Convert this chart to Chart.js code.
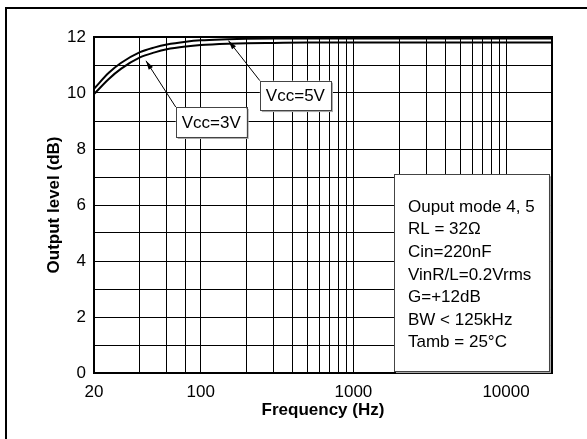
<!DOCTYPE html>
<html>
<head>
<meta charset="utf-8">
<script src="https://cdn.jsdelivr.net/npm/chart.js@4.4.0/dist/chart.umd.min.js"></script>
<style>
html, body { margin: 0; padding: 0; background: #fff; }
#wrap { width: 587px; height: 439px; }
</style>
</head>
<body>
<div id="wrap"><canvas id="chart" width="587" height="439"></canvas></div>
<script>
// Curve data
const freqHz = [20, 25, 30, 40, 50, 60, 80, 100, 150, 200, 300, 500, 1000, 2000, 5000, 10000, 20000];
const vcc5 = [10.15, 10.72, 11.07, 11.46, 11.63, 11.73, 11.83, 11.88, 11.92, 11.94, 11.95, 11.95, 11.95, 11.95, 11.95, 11.95, 11.95];
const vcc3 = [9.96, 10.5, 10.86, 11.27, 11.45, 11.56, 11.66, 11.71, 11.76, 11.78, 11.79, 11.8, 11.8, 11.8, 11.8, 11.8, 11.8];

// Axis ticks
const xGridTicks = [20, 40, 60, 80, 100, 200, 300, 400, 500, 600, 700, 800, 900, 1000,
    2000, 3000, 4000, 5000, 6000, 7000, 8000, 9000, 10000, 20000];
const xLabelTicks = [20, 100, 1000, 10000];
const yLabelTicks = [0, 2, 4, 6, 8, 10, 12];

// Annotation texts
const infoLines = ['Ouput mode 4, 5', 'RL = 32\u03A9', 'Cin=220nF', 'VinR/L=0.2Vrms', 'G=+12dB', 'BW < 125kHz', 'Tamb = 25\u00B0C'];
const labels = [
    { text: 'Vcc=5V', box: [244, 10.44, 713, 9.39], tip: [152, 11.87] },
    { text: 'Vcc=3V', box: [68.6, 9.5, 200, 8.43], tip: [43.8, 11.15] }
];
const infoBox = [1845, 7.1, 19100, 0.07];

const FONT = "'Liberation Sans', Arial, sans-serif";

function toXY(xs, ys) {
    return freqHz.map((f, i) => ({ x: f, y: ys[i] }));
}

function drawBox(ctx, x1, y1, x2, y2) {
    ctx.fillStyle = '#a8a8a8';
    ctx.fillRect(x1 + 2, y1 + 2, x2 - x1, y2 - y1);
    ctx.fillStyle = '#fff';
    ctx.fillRect(x1, y1, x2 - x1, y2 - y1);
    ctx.strokeStyle = '#444';
    ctx.lineWidth = 1;
    ctx.strokeRect(Math.round(x1) + 0.5, Math.round(y1) + 0.5, Math.round(x2 - x1), Math.round(y2 - y1));
}

function drawArrow(ctx, x1, y1, x2, y2) {
    ctx.strokeStyle = '#000';
    ctx.lineWidth = 1;
    ctx.beginPath();
    ctx.moveTo(x1, y1);
    ctx.lineTo(x2, y2);
    ctx.stroke();
    const a = Math.atan2(y2 - y1, x2 - x1);
    const len = 9, half = 2.5;
    ctx.fillStyle = '#000';
    ctx.beginPath();
    ctx.moveTo(x2, y2);
    ctx.lineTo(x2 - len * Math.cos(a) + half * Math.sin(a), y2 - len * Math.sin(a) - half * Math.cos(a));
    ctx.lineTo(x2 - len * Math.cos(a) - half * Math.sin(a), y2 - len * Math.sin(a) + half * Math.cos(a));
    ctx.closePath();
    ctx.fill();
}

const overlayPlugin = {
    id: 'overlay',
    beforeDraw(chart) {
        const ctx = chart.ctx;
        ctx.save();
        ctx.fillStyle = '#fff';
        ctx.fillRect(0, 0, chart.width, chart.height);
        ctx.strokeStyle = '#000';
        ctx.lineWidth = 2;
        ctx.strokeRect(6, 8, 700, 700);
        ctx.restore();
    },
    afterDatasetsDraw(chart) {
        const ctx = chart.ctx;
        const sx = chart.scales.x, sy = chart.scales.y;
        const a = chart.chartArea;
        ctx.save();
        // plot frame
        ctx.strokeStyle = '#000';
        ctx.lineWidth = 2;
        ctx.strokeRect(a.left, a.top, a.right - a.left, a.bottom - a.top);

        // curve labels with arrows
        labels.forEach(l => {
            const x1 = sx.getPixelForValue(l.box[0]), y1 = sy.getPixelForValue(l.box[1]);
            const x2 = sx.getPixelForValue(l.box[2]), y2 = sy.getPixelForValue(l.box[3]);
            drawArrow(ctx, x1, y1, sx.getPixelForValue(l.tip[0]), sy.getPixelForValue(l.tip[1]));
            drawBox(ctx, x1, y1, x2, y2);
            ctx.fillStyle = '#000';
            ctx.font = '17px ' + FONT;
            ctx.textAlign = 'center';
            ctx.textBaseline = 'middle';
            ctx.fillText(l.text, (x1 + x2) / 2, (y1 + y2) / 2 + 1);
        });

        // conditions box
        const bx1 = sx.getPixelForValue(infoBox[0]), by1 = sy.getPixelForValue(infoBox[1]);
        const bx2 = sx.getPixelForValue(infoBox[2]), by2 = sy.getPixelForValue(infoBox[3]);
        drawBox(ctx, bx1, by1, bx2, by2);
        ctx.fillStyle = '#000';
        ctx.font = '17px ' + FONT;
        ctx.textAlign = 'left';
        ctx.textBaseline = 'middle';
        infoLines.forEach((t, i) => {
            ctx.fillText(t, bx1 + 14, by1 + 33 + i * 22.6);
        });
        ctx.restore();
    }
};

new Chart(document.getElementById('chart'), {
    type: 'line',
    data: {
        datasets: [
            { label: 'Vcc=5V', data: toXY(freqHz, vcc5), borderColor: '#000', borderWidth: 2, pointRadius: 0, cubicInterpolationMode: 'monotone', fill: false },
            { label: 'Vcc=3V', data: toXY(freqHz, vcc3), borderColor: '#000', borderWidth: 2, pointRadius: 0, cubicInterpolationMode: 'monotone', fill: false }
        ]
    },
    options: {
        responsive: false,
        animation: false,
        layout: { padding: { left: 40, top: 37, right: 35, bottom: 0 } },
        plugins: { legend: { display: false }, tooltip: { enabled: false } },
        scales: {
            x: {
                type: 'logarithmic',
                min: 20,
                max: 20000,
                afterBuildTicks: (scale) => { scale.ticks = xGridTicks.map(v => ({ value: v })); },
                afterFit: (scale) => { scale.height = 66; },
                ticks: {
                    autoSkip: false,
                    maxRotation: 0,
                    padding: 9,
                    color: '#000',
                    font: { family: FONT, size: 17 },
                    callback: (v) => xLabelTicks.includes(v) ? String(v) : ''
                },
                grid: { color: '#000', lineWidth: 1, drawTicks: false },
                border: { color: '#000', width: 2 },
                title: {
                    display: true,
                    text: 'Frequency (Hz)',
                    color: '#000',
                    font: { family: FONT, size: 17, weight: 'bold' },
                    padding: { top: 0, bottom: 18 }
                }
            },
            y: {
                min: 0,
                max: 12,
                afterFit: (scale) => { scale.width = 54; },
                ticks: {
                    stepSize: 1,
                    padding: 8,
                    color: '#000',
                    font: { family: FONT, size: 17 },
                    callback: (v) => yLabelTicks.includes(v) ? String(v) : ''
                },
                grid: { color: '#000', lineWidth: 1, drawTicks: false },
                border: { color: '#000', width: 2 },
                title: {
                    display: true,
                    text: 'Output level (dB)',
                    color: '#000',
                    font: { family: FONT, size: 17, weight: 'bold' },
                    padding: { top: 4, bottom: 0 }
                }
            }
        }
    },
    plugins: [overlayPlugin]
});
</script>
</body>
</html>
